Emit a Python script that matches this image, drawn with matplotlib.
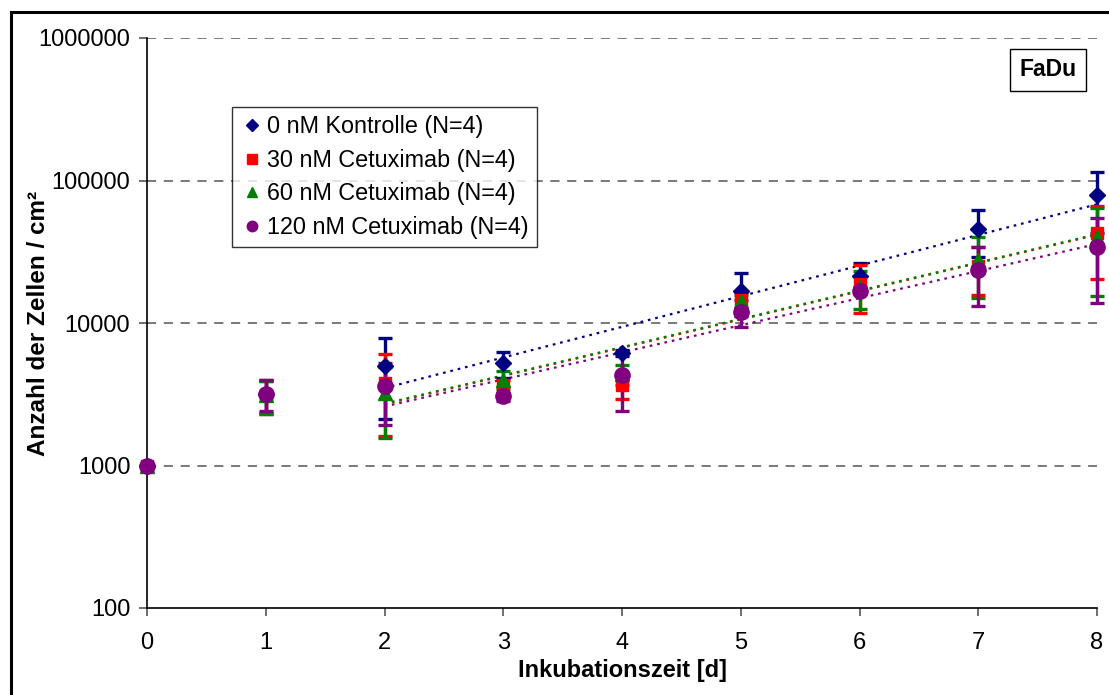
import numpy as np
import matplotlib
matplotlib.use("Agg")
import matplotlib.pyplot as plt
from matplotlib.patches import Rectangle

plt.rcParams['font.family'] = ['Liberation Sans', 'DejaVu Sans']

days = [0, 1, 2, 3, 4, 5, 6, 7, 8]

labels = ["0 nM Kontrolle (N=4)", "30 nM Cetuximab (N=4)",
          "60 nM Cetuximab (N=4)", "120 nM Cetuximab (N=4)"]

kontrolle = [1000, 3150, 4960, 5200, 6200, 16900, 21500, 45400, 78500]
kontrolle_sd = [0, 800, 2850, 1100, 300, 5700, 5000, 16500, 35500]

cet30 = [1000, 3100, 3820, 3590, 3700, 14600, 18700, 25000, 43100]
cet30_sd = [0, 800, 2200, 400, 750, 2000, 6900, 9400, 22700]

cet60 = [1000, 3100, 3250, 4000, 4400, 14200, 17800, 27500, 39900]
cet60_sd = [0, 800, 1680, 570, 700, 1500, 5200, 12500, 24500]

cet120 = [1000, 3200, 3590, 3050, 4290, 12000, 16900, 23700, 34400]
cet120_sd = [0, 800, 1680, 200, 1860, 2550, 1000, 10600, 20500]

series = [kontrolle, cet30, cet60, cet120]
errors = [kontrolle_sd, cet30_sd, cet60_sd, cet120_sd]
colors = ["#000080", "#FF0000", "#008000", "#800080"]
markers = ["D", "s", "^", "o"]
msizes = [8.5, 8.5, 9.5, 11]
legend_ms = [6, 6.5, 7, 7.5]

fig = plt.figure(figsize=(11.09, 6.95), dpi=100)
ax = fig.add_axes([147 / 1109, 1 - 608 / 695, 950 / 1109, 570 / 695])

x = np.array(days, dtype=float)
handles = []
for vals, sd, c, m, ms, lms, lab in zip(series, errors, colors, markers,
                                         msizes, legend_ms, labels):
    vals = np.array(vals, dtype=float)
    eb = ax.errorbar(x, vals, yerr=sd, fmt='none', ecolor=c, elinewidth=2.4,
                     capsize=5, capthick=2.4, zorder=3)
    for art in eb.lines[1] + eb.lines[2]:
        art.set_clip_on(False)
    ax.plot(x, vals, linestyle='none', marker=m, color=c, markersize=ms,
            zorder=4, clip_on=False)
    # exponential trend fitted over days 2-8
    sel = x >= 2
    k, b = np.polyfit(x[sel], np.log(vals[sel]), 1)
    xt = np.linspace(2, 8, 100)
    ax.plot(xt, np.exp(b + k * xt), linestyle=(0, (1.2, 2.2)), color=c,
            linewidth=1.6, zorder=2)
    handles.append(plt.Line2D([], [], linestyle='none', marker=m, color=c,
                              markersize=lms, label=lab))

ax.set_yscale('log')
ax.set_ylim(100, 1e6)
ax.set_xlim(0, 8)
ax.set_yticks([100, 1000, 10000, 100000, 1000000])
ax.set_yticklabels(["100", "1000", "10000", "100000", "1000000"])
ax.yaxis.set_minor_locator(matplotlib.ticker.NullLocator())
ax.set_xticks(days)
ax.set_xticklabels([str(d) for d in days])

for yv in [1000, 10000, 100000, 1000000]:
    ax.axhline(yv, color='#555555', linestyle=(0, (6, 5)), linewidth=1.1,
               zorder=1)

for s in ['top', 'right']:
    ax.spines[s].set_visible(False)
for s in ['left', 'bottom']:
    ax.spines[s].set_linewidth(1.2)
    ax.spines[s].set_color('black')

ax.tick_params(axis='both', direction='out', length=6, width=1.2,
               colors='#555555', labelcolor='black', labelsize=17, pad=6)
ax.tick_params(axis='x', pad=11)

ax.set_xlabel("Inkubationszeit [d]", fontsize=17, fontweight='bold')
ax.set_ylabel("Anzahl der Zellen / cm²", fontsize=17.5, fontweight='bold')
ax.xaxis.set_label_coords(0.5, (608 - 659) / 570)
ax.yaxis.set_label_coords((50 - 147) / 950, 0.5)

leg = ax.legend(handles=handles, loc='upper left',
                bbox_to_anchor=((232 - 147) / 950, (608 - 107) / 570),
                fontsize=16.8, frameon=True, fancybox=False, handletextpad=0.15,
                handlelength=1.0, borderpad=0.35, labelspacing=0.45,
                borderaxespad=0)
leg.get_frame().set_edgecolor('black')
leg.get_frame().set_linewidth(1.0)

ax.text(1048 / 1109, 1 - 70 / 695, "FaDu", transform=fig.transFigure,
        fontsize=16.5, fontweight='bold', ha='center', va='center',
        bbox=dict(boxstyle='square,pad=0.42', facecolor='white',
                  edgecolor='black', linewidth=1.0))

fig.patches.append(Rectangle((11 / 1109, -0.05), 1.2, 1.05 - 12 / 695,
                             transform=fig.transFigure, fill=False,
                             edgecolor='black', linewidth=2.2))

fig.savefig("out.png", dpi=100)
